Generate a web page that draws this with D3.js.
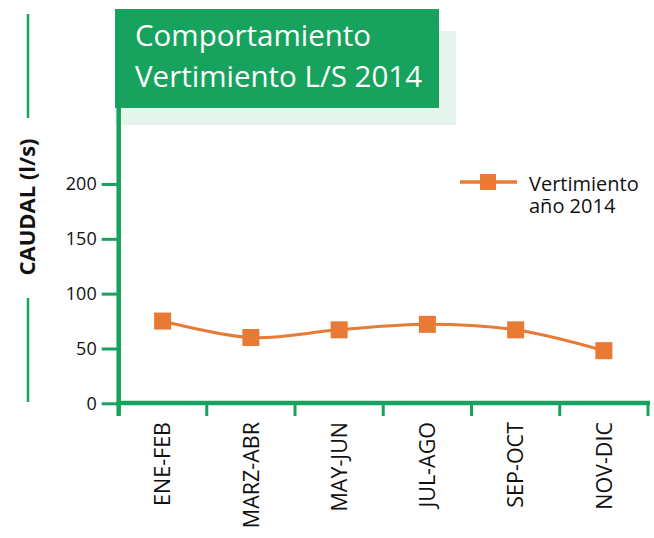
<!DOCTYPE html>
<html>
<head>
<meta charset="utf-8">
<script src="https://cdn.jsdelivr.net/npm/d3@7/dist/d3.min.js"></script>
<style>
  html, body { margin: 0; padding: 0; background: #fff; }
  svg { display: block; }
  text { font-family: "Open Sans", "DejaVu Sans", sans-serif; }
</style>
</head>
<body>
<svg id="chart" width="654" height="538"></svg>
<script>
const categories = ["ENE-FEB", "MARZ-ABR", "MAY-JUN", "JUL-AGO", "SEP-OCT", "NOV-DIC"];
const values = [75, 60, 67, 72, 67, 48];
const yTicks = [0, 50, 100, 150, 200];
const titleLines = ["Comportamiento", "Vertimiento L/S 2014"];
const legendLines = ["Vertimiento", "año 2014"];
const yTitle = "CAUDAL (l/s)";

const GREEN = "#17a35d";
const LIGHT = "#e5f4ec";
const ORANGE = "#e87a35";

const svg = d3.select("#chart");

// title decoration
svg.append("rect").attr("x", 115).attr("y", 31).attr("width", 341).attr("height", 94).attr("fill", LIGHT);
svg.append("rect").attr("x", 115).attr("y", 9).attr("width", 324).attr("height", 99).attr("fill", GREEN);
const title = svg.append("text").attr("fill", "#fff").attr("font-size", 29.5);
title.append("tspan").attr("x", 135).attr("y", 46).text(titleLines[0]);
title.append("tspan").attr("x", 135).attr("y", 87).text(titleLines[1]);

// left decorative lines
svg.append("line").attr("x1", 28).attr("x2", 28).attr("y1", 14).attr("y2", 118).attr("stroke", GREEN).attr("stroke-width", 2.5);
svg.append("line").attr("x1", 28).attr("x2", 28).attr("y1", 298).attr("y2", 402).attr("stroke", GREEN).attr("stroke-width", 2.5);

const x = d3.scaleBand().domain(categories).range([118.5, 648]);
const y = d3.scaleLinear().domain([0, 200]).range([403.3, 184]);

// y axis
const yAxis = svg.append("g").attr("transform", "translate(118.7,0)")
  .call(d3.axisLeft(y).tickValues(yTicks).tickSize(17).tickPadding(5));
yAxis.select(".domain").remove();
yAxis.selectAll(".tick line").attr("stroke", GREEN).attr("stroke-width", 3);
yAxis.selectAll(".tick text").attr("font-size", 18).attr("fill", "#111")
  .style("font-family", "'Open Sans', sans-serif");
svg.append("line").attr("x1", 118.7).attr("x2", 118.7)
  .attr("y1", y(270)).attr("y2", y(0) + 12.5)
  .attr("stroke", GREEN).attr("stroke-width", 4.5);

// x axis
const xAxis = svg.append("g").attr("transform", "translate(0,403)")
  .call(d3.axisBottom(x).tickSize(0).tickPadding(0));
xAxis.select(".domain").remove();
xAxis.selectAll(".tick text")
  .attr("font-size", 21.5).attr("fill", "#111")
  .style("font-family", "'Open Sans', sans-serif")
  .attr("text-anchor", "end")
  .attr("transform", "rotate(-90)")
  .attr("x", -19).attr("y", 0).attr("dy", "0.36em");
svg.append("line").attr("x1", 116.5).attr("x2", 650)
  .attr("y1", 403).attr("y2", 403).attr("stroke", GREEN).attr("stroke-width", 4.5);
const bounds = categories.map(c => x(c)).concat([x.range()[1]]);
svg.append("g").selectAll("line").data(bounds).join("line")
  .attr("x1", d => d).attr("x2", d => d)
  .attr("y1", 403).attr("y2", 416)
  .attr("stroke", GREEN).attr("stroke-width", 3);

// y title
svg.append("text")
  .attr("transform", `translate(35,207) rotate(-90)`)
  .attr("text-anchor", "middle")
  .attr("font-size", 22).attr("font-weight", "bold").attr("fill", "#111")
  .text(yTitle);

// line series
const pts = categories.map((c, i) => [x(c) + x.bandwidth() / 2, y(values[i])]);
svg.append("path")
  .attr("d", d3.line().curve(d3.curveCatmullRom.alpha(0.5))(pts))
  .attr("fill", "none").attr("stroke", ORANGE).attr("stroke-width", 3);
svg.append("g").selectAll("rect").data(pts).join("rect")
  .attr("x", d => d[0] - 8.5).attr("y", d => d[1] - 8.5)
  .attr("width", 17).attr("height", 17).attr("fill", ORANGE);

// legend
svg.append("line").attr("x1", 460).attr("x2", 517).attr("y1", 182).attr("y2", 182)
  .attr("stroke", ORANGE).attr("stroke-width", 3.5);
svg.append("rect").attr("x", 480).attr("y", 174).attr("width", 16).attr("height", 16).attr("fill", ORANGE);
const leg = svg.append("text").attr("font-size", 20).attr("fill", "#111");
leg.append("tspan").attr("x", 529).attr("y", 191).text(legendLines[0]);
leg.append("tspan").attr("x", 529).attr("y", 213).text(legendLines[1]);
</script>
</body>
</html>
